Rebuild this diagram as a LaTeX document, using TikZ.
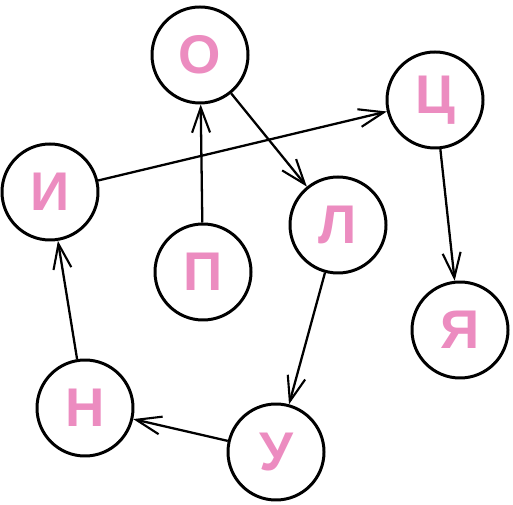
\documentclass[tikz,border=0pt]{standalone}
\usepackage{fontspec}
\setmainfont{Liberation Sans}
\usetikzlibrary{arrows.meta}
\definecolor{letterpink}{RGB}{236,140,192}

\begin{document}
\begin{tikzpicture}[
  >={Straight Barb[length=5mm, width=3.6mm, line width=1.2pt]},
  % Node styles
  letter/.style={circle, draw, line width=1.7pt, fill=white, minimum size=1.92cm, inner sep=0pt,
                 text=letterpink, font=\fontsize{31}{31}\selectfont\bfseries},
  % Edge styles
  link/.style={->, line width=1.3pt, draw=black}
]

% ------------------------------------------------------------
% Frame (fixes the picture size)
% ------------------------------------------------------------
\useasboundingbox (0,0) rectangle (10.26,10.08);

% ------------------------------------------------------------
% Letter circles
% ------------------------------------------------------------
\node[letter] (L_o)  at (4.00,8.98) {О};
\node[letter] (L_ts) at (8.70,8.08) {Ц};
\node[letter] (L_i)  at (1.00,6.24) {И};
\node[letter] (L_p)  at (4.06,4.64) {П};
\node[letter] (L_l)  at (6.76,5.58) {Л};
\node[letter] (L_ya) at (9.20,3.48) {Я};
\node[letter] (L_n)  at (1.70,1.92) {Н};
\node[letter] (L_u)  at (5.52,1.04) {У};

% ------------------------------------------------------------
% Arrows (the word chain)
% ------------------------------------------------------------
\draw[link] (L_p)  -- (L_o);
\draw[link] (L_o)  -- (L_l);
\draw[link] (L_l)  -- (L_u);
\draw[link] (L_u)  -- (L_n);
\draw[link] (L_n)  -- (L_i);
\draw[link] (L_i)  -- (L_ts);
\draw[link] (L_ts) -- (L_ya);

\end{tikzpicture}
\end{document}
